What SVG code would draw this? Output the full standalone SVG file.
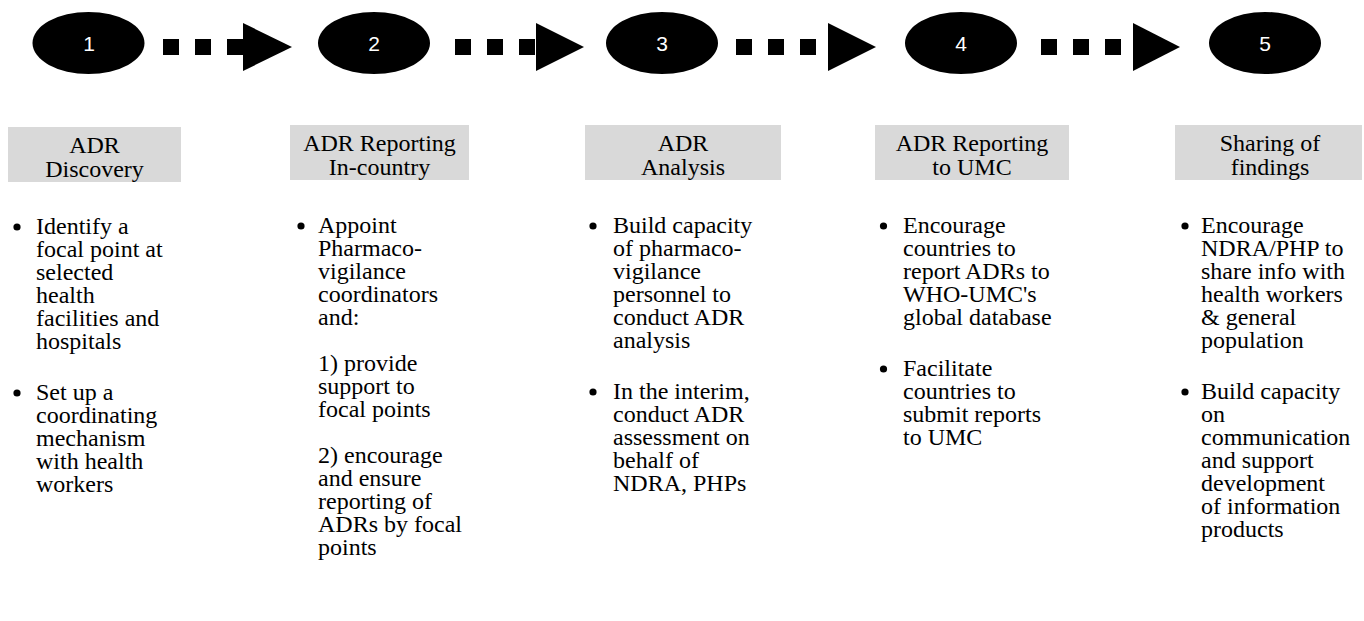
<svg xmlns="http://www.w3.org/2000/svg" width="1364" height="621" viewBox="0 0 1364 621">
<style>
.oval{fill:#000;}
.num{font-family:"Liberation Sans",Arial,sans-serif;font-size:21px;fill:#fff;text-anchor:middle;}
.hbox{fill:#d9d9d9;}
.head{font-family:"Liberation Serif","Times New Roman",serif;font-size:24px;fill:#000;text-anchor:middle;}
.body{font-family:"Liberation Serif","Times New Roman",serif;font-size:24px;fill:#000;}
.dot{fill:#000;}
.sq{fill:#000;}
.tri{fill:#000;}
</style>
<defs>
<g id="dots">
<rect class="sq" x="0" y="0" width="16" height="16"/>
<rect class="sq" x="32" y="0" width="16" height="16"/>
<rect class="sq" x="64" y="0" width="16" height="16"/>
</g>
</defs>
<rect width="1364" height="621" fill="#fff"/>
<g id="connectors">
<g id="arrow-1-2"><use href="#dots" x="163" y="39"/><polygon class="tri" points="243,23 292,47 243,71"/></g>
<g id="arrow-2-3"><use href="#dots" x="455" y="39"/><polygon class="tri" points="536,23 584,47 536,71"/></g>
<g id="arrow-3-4"><use href="#dots" x="736" y="39"/><polygon class="tri" points="828,23 876,47 828,71"/></g>
<g id="arrow-4-5"><use href="#dots" x="1041" y="39"/><polygon class="tri" points="1133,23 1180,47 1133,71"/></g>
</g>
<g id="step1">
<ellipse class="oval" cx="88.5" cy="43" rx="56" ry="31"/>
<text class="num" x="89" y="50.5">1</text>
<rect class="hbox" x="8" y="127" width="173" height="55"/>
<text class="head" x="94.5" y="153">ADR</text>
<text class="head" x="94.5" y="177">Discovery</text>
<circle class="dot" cx="17" cy="227" r="3.6"/>
<text class="body" x="36" y="234"><tspan x="36">Identify a</tspan><tspan x="36" dy="23">focal point at</tspan><tspan x="36" dy="23">selected</tspan><tspan x="36" dy="23">health</tspan><tspan x="36" dy="23">facilities and</tspan><tspan x="36" dy="23">hospitals</tspan></text>
<circle class="dot" cx="17" cy="393" r="3.6"/>
<text class="body" x="36" y="400"><tspan x="36">Set up a</tspan><tspan x="36" dy="23">coordinating</tspan><tspan x="36" dy="23">mechanism</tspan><tspan x="36" dy="23">with health</tspan><tspan x="36" dy="23">workers</tspan></text>
</g>
<g id="step2">
<ellipse class="oval" cx="374" cy="43" rx="56" ry="31"/>
<text class="num" x="374" y="50.5">2</text>
<rect class="hbox" x="290" y="125" width="179" height="55"/>
<text class="head" x="379.5" y="151">ADR Reporting</text>
<text class="head" x="379.5" y="175">In-country</text>
<circle class="dot" cx="301" cy="226" r="3.6"/>
<text class="body" x="318" y="233"><tspan x="318">Appoint</tspan><tspan x="318" dy="23">Pharmaco-</tspan><tspan x="318" dy="23">vigilance</tspan><tspan x="318" dy="23">coordinators</tspan><tspan x="318" dy="23">and:</tspan><tspan x="318" dy="46">1) provide</tspan><tspan x="318" dy="23">support to</tspan><tspan x="318" dy="23">focal points</tspan><tspan x="318" dy="46">2) encourage</tspan><tspan x="318" dy="23">and ensure</tspan><tspan x="318" dy="23">reporting of</tspan><tspan x="318" dy="23">ADRs by focal</tspan><tspan x="318" dy="23">points</tspan></text>
</g>
<g id="step3">
<ellipse class="oval" cx="662" cy="43" rx="56" ry="31"/>
<text class="num" x="662" y="50.5">3</text>
<rect class="hbox" x="585" y="125" width="196" height="55"/>
<text class="head" x="683" y="151">ADR</text>
<text class="head" x="683" y="175">Analysis</text>
<circle class="dot" cx="593" cy="226" r="3.6"/>
<text class="body" x="613" y="233"><tspan x="613">Build capacity</tspan><tspan x="613" dy="23">of pharmaco-</tspan><tspan x="613" dy="23">vigilance</tspan><tspan x="613" dy="23">personnel to</tspan><tspan x="613" dy="23">conduct ADR</tspan><tspan x="613" dy="23">analysis</tspan></text>
<circle class="dot" cx="593" cy="392" r="3.6"/>
<text class="body" x="613" y="399"><tspan x="613">In the interim,</tspan><tspan x="613" dy="23">conduct ADR</tspan><tspan x="613" dy="23">assessment on</tspan><tspan x="613" dy="23">behalf of</tspan><tspan x="613" dy="23">NDRA, PHPs</tspan></text>
</g>
<g id="step4">
<ellipse class="oval" cx="961" cy="43" rx="56" ry="31"/>
<text class="num" x="961" y="50.5">4</text>
<rect class="hbox" x="875" y="125" width="194" height="55"/>
<text class="head" x="972" y="151">ADR Reporting</text>
<text class="head" x="972" y="175">to UMC</text>
<circle class="dot" cx="883.5" cy="226" r="3.6"/>
<text class="body" x="903" y="233"><tspan x="903">Encourage</tspan><tspan x="903" dy="23">countries to</tspan><tspan x="903" dy="23">report ADRs to</tspan><tspan x="903" dy="23">WHO-UMC's</tspan><tspan x="903" dy="23">global database</tspan></text>
<circle class="dot" cx="883.5" cy="369" r="3.6"/>
<text class="body" x="903" y="376"><tspan x="903">Facilitate</tspan><tspan x="903" dy="23">countries to</tspan><tspan x="903" dy="23">submit reports</tspan><tspan x="903" dy="23">to UMC</tspan></text>
</g>
<g id="step5">
<ellipse class="oval" cx="1265" cy="43" rx="56" ry="31"/>
<text class="num" x="1265" y="50.5">5</text>
<rect class="hbox" x="1175" y="125" width="187" height="55"/>
<text class="head" x="1270" y="151">Sharing of</text>
<text class="head" x="1270" y="175">findings</text>
<circle class="dot" cx="1185" cy="226" r="3.6"/>
<text class="body" x="1201" y="233"><tspan x="1201">Encourage</tspan><tspan x="1201" dy="23">NDRA/PHP to</tspan><tspan x="1201" dy="23">share info with</tspan><tspan x="1201" dy="23">health workers</tspan><tspan x="1201" dy="23">&amp; general</tspan><tspan x="1201" dy="23">population</tspan></text>
<circle class="dot" cx="1185" cy="392" r="3.6"/>
<text class="body" x="1201" y="399"><tspan x="1201">Build capacity</tspan><tspan x="1201" dy="23">on</tspan><tspan x="1201" dy="23">communication</tspan><tspan x="1201" dy="23">and support</tspan><tspan x="1201" dy="23">development</tspan><tspan x="1201" dy="23">of information</tspan><tspan x="1201" dy="23">products</tspan></text>
</g>
</svg>
